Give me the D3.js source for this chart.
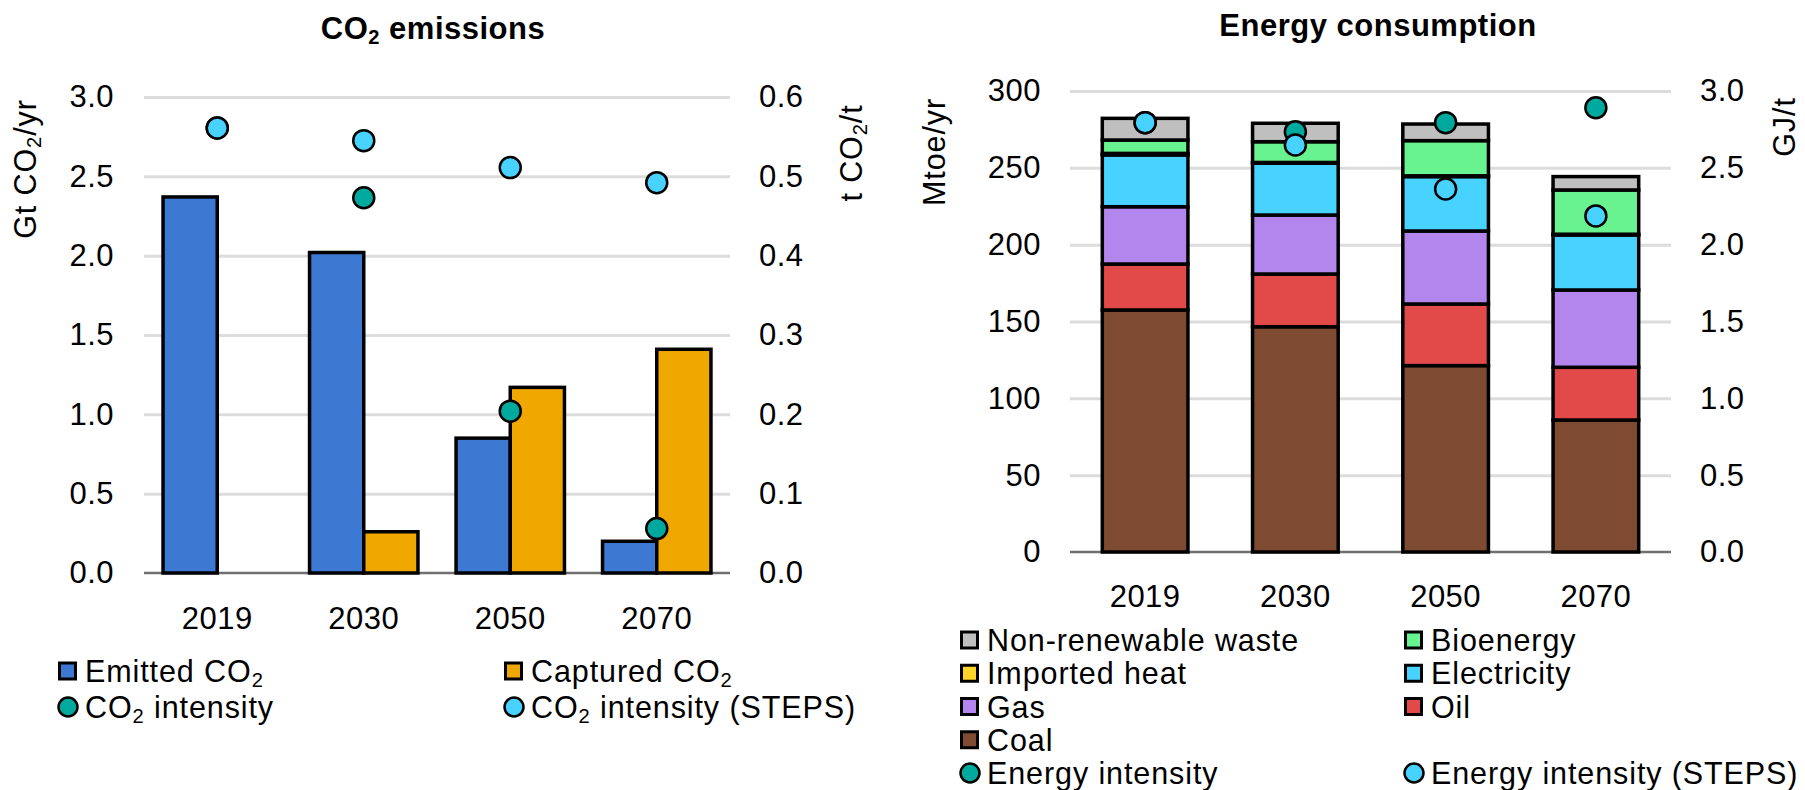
<!DOCTYPE html>
<html><head><meta charset="utf-8">
<script src="https://cdn.jsdelivr.net/npm/d3@7"></script>
<style>
body{margin:0;background:#fff;}
svg text{font-family:"Liberation Sans",Arial,sans-serif;fill:#000;}
</style></head><body>
<svg id="c" width="1805" height="790"></svg>
<script>
// ---------- data ----------
const years = ["2019", "2030", "2050", "2070"];

// CO2 emissions chart (Gt CO2/yr, left axis; t CO2/t, right axis)
const emittedCO2 = [2.37, 2.02, 0.85, 0.20];
const capturedCO2 = [0, 0.26, 1.17, 1.41];
const co2Intensity = [0.561, 0.473, 0.204, 0.056];
const co2IntensitySTEPS = [0.561, 0.545, 0.511, 0.492];
const co2LeftTicks = [0, 0.5, 1.0, 1.5, 2.0, 2.5, 3.0];
const co2RightTicks = [0, 0.1, 0.2, 0.3, 0.4, 0.5, 0.6];

// Energy consumption chart (Mtoe/yr, left axis; GJ/t, right axis)
const coal = [157.5, 146.6, 121.3, 85.9];
const oil = [29.9, 34.3, 40.1, 34.3];
const gas = [37.3, 38.4, 47.5, 50.3];
const electricity = [33.7, 33.7, 35.4, 35.8];
const importedHeat = [1.0, 0.5, 0.5, 0.5];
const bioenergy = [8.7, 13.5, 22.9, 28.8];
const nonRenewableWaste = [14.1, 12.0, 10.8, 8.7];
const energyIntensity = [2.794, 2.735, 2.794, 2.891];
const energyIntensitySTEPS = [2.794, 2.649, 2.362, 2.187];
const enLeftTicks = [0, 50, 100, 150, 200, 250, 300];
const enRightTicks = [0, 0.5, 1.0, 1.5, 2.0, 2.5, 3.0];

// ---------- styles ----------
const C = {
  emitted: "#3d78d3", captured: "#f0a800",
  intensity: "#00a99d", steps: "#48d2ff",
  coal: "#7e4a32", oil: "#e24a4a", gas: "#b286ec", electricity: "#48d2ff",
  heat: "#ffd42a", bio: "#69f290", waste: "#bfbfbf",
  grid: "#dcdcdc", axis: "#6f6f6f"
};
const FONT = 30.5, LS = 0.9, TICKFONT = 31, TICKLS = 0.5;
const BAR_SW = 3.5;
const SUB_DY = 5;

const svg = d3.select("#c");

function richText(g, str, attrs) {
  const t = g.append("text");
  Object.entries(attrs).forEach(([k, v]) => t.attr(k, v));
  const segs = str.split("|");
  segs.forEach((s, i) => {
    if (i % 2 === 1) {
      t.append("tspan").attr("font-size", FONT * 0.66).attr("dy", SUB_DY).text(s);
    } else {
      const ts = t.append("tspan").text(s);
      if (i > 0) ts.attr("dy", -SUB_DY);
    }
  });
  return t;
}

function gridAndAxes(cfg) {
  const g = svg.append("g");
  g.append("g").attr("transform", `translate(${cfg.x0},0)`)
    .call(d3.axisLeft(cfg.yL).tickValues(cfg.leftTicks.filter(v => v > 0)).tickSize(-(cfg.x1 - cfg.x0)).tickFormat(""))
    .call(a => a.select(".domain").remove())
    .call(a => a.selectAll("line").attr("stroke", C.grid).attr("stroke-width", 3));
  const styleTicks = a => a.selectAll("text").attr("font-size", TICKFONT).attr("letter-spacing", TICKLS)
    .attr("font-family", '"Liberation Sans",Arial,sans-serif').attr("fill", "#000");
  g.append("g").attr("transform", `translate(${cfg.x0},0)`)
    .call(d3.axisLeft(cfg.yL).tickValues(cfg.leftTicks).tickSize(0).tickPadding(cfg.padL).tickFormat(cfg.fmtL))
    .call(a => a.select(".domain").remove())
    .call(styleTicks);
  g.append("g").attr("transform", `translate(${cfg.x1},0)`)
    .call(d3.axisRight(cfg.yR).tickValues(cfg.rightTicks).tickSize(0).tickPadding(cfg.padR).tickFormat(cfg.fmtR))
    .call(a => a.select(".domain").remove())
    .call(styleTicks);
  g.append("line").attr("x1", cfg.x0).attr("x2", cfg.x1)
    .attr("y1", cfg.yL(0)).attr("y2", cfg.yL(0))
    .attr("stroke", C.axis).attr("stroke-width", 2.5);
  g.append("g").selectAll("text").data(years).join("text")
    .attr("x", d => cfg.xBand(d) + cfg.xBand.bandwidth() / 2)
    .attr("y", cfg.yearY).attr("text-anchor", "middle")
    .attr("font-size", TICKFONT).attr("letter-spacing", TICKLS).text(d => d);
}

function legendItem(x, y, type, color, label) {
  const g = svg.append("g");
  if (type === "rect") {
    g.append("rect").attr("x", x + 1.5).attr("y", y - 8).attr("width", 16).attr("height", 16)
      .attr("fill", color).attr("stroke", "#000").attr("stroke-width", 3);
  } else {
    g.append("circle").attr("cx", x + 10).attr("cy", y).attr("r", 9.5)
      .attr("fill", color).attr("stroke", "#000").attr("stroke-width", 2.5);
  }
  richText(g, label, { x: x + 27, y: y + 11, "font-size": FONT, "letter-spacing": LS });
}

function dots(xBand, yR, vals, color) {
  svg.append("g").selectAll("circle").data(years.map((yr, i) => ({ yr, v: vals[i] }))).join("circle")
    .attr("cx", d => xBand(d.yr) + xBand.bandwidth() / 2).attr("cy", d => yR(d.v)).attr("r", 10.5)
    .attr("fill", color).attr("stroke", "#000").attr("stroke-width", 2.5);
}

// ================= LEFT: CO2 emissions =================
{
  const x0 = 144, x1 = 730, yTop = 97, yBot = 573;
  const xBand = d3.scaleBand().domain(years).range([x0, x1]).paddingInner(0.26).paddingOuter(0.13);
  const xSub = d3.scaleBand().domain(["emitted", "captured"]).range([0, xBand.bandwidth()]);
  const yL = d3.scaleLinear().domain([0, 3]).range([yBot, yTop]);
  const yR = d3.scaleLinear().domain([0, 0.6]).range([yBot, yTop]);

  gridAndAxes({ x0, x1, yL, yR, xBand, leftTicks: co2LeftTicks, rightTicks: co2RightTicks,
    fmtL: d3.format(".1f"), fmtR: d3.format(".1f"), padL: 30, padR: 29, yearY: 629 });

  const bars = years.flatMap((yr, i) => [
    { yr, key: "emitted", v: emittedCO2[i], c: C.emitted },
    { yr, key: "captured", v: capturedCO2[i], c: C.captured }
  ]).filter(d => d.v > 0);
  svg.append("g").selectAll("rect").data(bars).join("rect")
    .attr("x", d => xBand(d.yr) + xSub(d.key))
    .attr("width", xSub.bandwidth())
    .attr("y", d => yL(d.v))
    .attr("height", d => yL(0) - yL(d.v))
    .attr("fill", d => d.c).attr("stroke", "#000").attr("stroke-width", BAR_SW);

  dots(xBand, yR, co2Intensity, C.intensity);
  dots(xBand, yR, co2IntensitySTEPS, C.steps);

  richText(svg, "CO|2| emissions", { x: 433, y: 39, "text-anchor": "middle", "font-size": 31, "font-weight": "bold", "letter-spacing": 0.5 });
  richText(svg.append("g").attr("transform", "translate(36,169) rotate(-90)"), "Gt CO|2|/yr",
    { x: 0, y: 0, "text-anchor": "middle", "font-size": FONT, "letter-spacing": LS });
  richText(svg.append("g").attr("transform", "translate(862,153) rotate(-90)"), "t CO|2|/t",
    { x: 0, y: 0, "text-anchor": "middle", "font-size": FONT, "letter-spacing": LS });

  legendItem(58, 671, "rect", C.emitted, "Emitted CO|2|");
  legendItem(504, 671, "rect", C.captured, "Captured CO|2|");
  legendItem(58, 707, "circle", C.intensity, "CO|2| intensity");
  legendItem(504, 707, "circle", C.steps, "CO|2| intensity (STEPS)");
}

// ================= RIGHT: Energy consumption =================
{
  const x0 = 1070, x1 = 1671, yTop = 91, yBot = 552;
  const xBand = d3.scaleBand().domain(years).range([x0, x1]).paddingInner(0.43).paddingOuter(0.215);
  const yL = d3.scaleLinear().domain([0, 300]).range([yBot, yTop]);
  const yR = d3.scaleLinear().domain([0, 3]).range([yBot, yTop]);

  gridAndAxes({ x0, x1, yL, yR, xBand, leftTicks: enLeftTicks, rightTicks: enRightTicks,
    fmtL: d3.format("d"), fmtR: d3.format(".1f"), padL: 29, padR: 29, yearY: 607 });

  const keys = ["coal", "oil", "gas", "electricity", "heat", "bio", "waste"];
  const series = { coal, oil, gas, electricity, heat: importedHeat, bio: bioenergy, waste: nonRenewableWaste };
  const table = years.map((yr, i) => {
    const o = { yr };
    keys.forEach(k => o[k] = series[k][i]);
    return o;
  });
  const stacked = d3.stack().keys(keys)(table);
  svg.append("g").selectAll("g").data(stacked).join("g")
    .attr("fill", d => C[d.key])
    .selectAll("rect").data(d => d).join("rect")
    .attr("x", d => xBand(d.data.yr)).attr("width", xBand.bandwidth())
    .attr("y", d => yL(d[1])).attr("height", d => yL(d[0]) - yL(d[1]))
    .attr("stroke", "#000").attr("stroke-width", BAR_SW);

  dots(xBand, yR, energyIntensity, C.intensity);
  dots(xBand, yR, energyIntensitySTEPS, C.steps);

  svg.append("text").attr("x", 1378).attr("y", 36).attr("text-anchor", "middle")
    .attr("font-size", 31).attr("font-weight", "bold").attr("letter-spacing", 0.5).text("Energy consumption");
  svg.append("g").attr("transform", "translate(945,152) rotate(-90)").append("text")
    .attr("text-anchor", "middle").attr("font-size", FONT).attr("letter-spacing", LS).text("Mtoe/yr");
  svg.append("g").attr("transform", "translate(1795,127) rotate(-90)").append("text")
    .attr("text-anchor", "middle").attr("font-size", FONT).attr("letter-spacing", LS).text("GJ/t");

  const rows = [640, 673.25, 706.5, 739.75, 773];
  const cA = 960, cB = 1404;
  legendItem(cA, rows[0], "rect", C.waste, "Non-renewable waste");
  legendItem(cB, rows[0], "rect", C.bio, "Bioenergy");
  legendItem(cA, rows[1], "rect", C.heat, "Imported heat");
  legendItem(cB, rows[1], "rect", C.electricity, "Electricity");
  legendItem(cA, rows[2], "rect", C.gas, "Gas");
  legendItem(cB, rows[2], "rect", C.oil, "Oil");
  legendItem(cA, rows[3], "rect", C.coal, "Coal");
  legendItem(cA, rows[4], "circle", C.intensity, "Energy intensity");
  legendItem(cB, rows[4], "circle", C.steps, "Energy intensity (STEPS)");
}
</script>
</body></html>
